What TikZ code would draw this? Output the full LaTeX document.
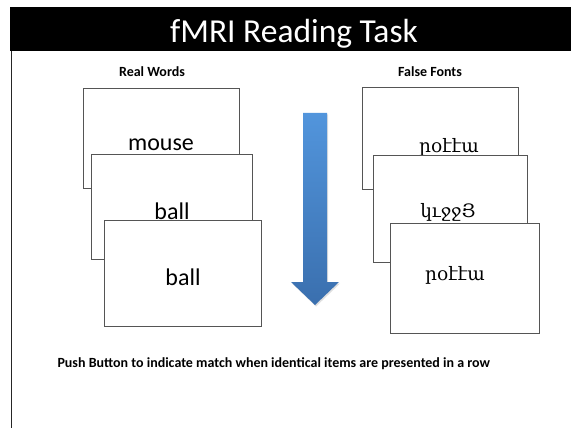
\documentclass[tikz,border=0pt]{standalone}
\usepackage{fontspec}
\setmainfont{Carlito}
\newfontfamily\armfont[Script=Armenian]{DejaVu Serif}
\usetikzlibrary{shadows}
\definecolor{cardline}{HTML}{555555}
\definecolor{arrowtop}{HTML}{5295DC}
\definecolor{arrowbot}{HTML}{3A6FAE}
\tikzset{
  card/.style={draw=cardline, line width=0.9pt, fill=white},
  cardtext/.style={font=\fontsize{24}{28}\selectfont},
  armtext/.style={font=\armfont\fontsize{18.5}{22}\selectfont},
  lbl/.style={font=\bfseries\fontsize{14}{16}\selectfont},
}
\begin{document}
\begin{tikzpicture}[x=1pt,y=-1pt]
\useasboundingbox (0,0) rectangle (571,428);
\fill[white] (0,0) rectangle (571,428);
% title bar
\fill[black] (10,7) rectangle (571,51);
\node[text=white, anchor=base, font=\fontsize{33.5}{38}\selectfont] (title) at (294,43) {fMRI Reading Task};
\draw[line width=1.6pt, black!85] (11.5,51) -- (11.5,428);
% labels
\node[lbl] (rw) at (152,72) {Real Words};
\node[lbl] (ff) at (430,72) {False Fonts};
% left cards
\draw[card] (83,88) rectangle (239,188);
\node[cardtext] (w1) at (161,145) {mouse};
\draw[card] (91,154) rectangle (252,259);
\node[cardtext] (w2) at (172,211) {ball};
\draw[card] (104,220) rectangle (261,326);
\node[cardtext] (w3) at (183,277) {ball};
% right cards
\draw[card] (362,87) rectangle (518,189);
\node[armtext] (f1) at (449,147) {րօէէա};
\draw[card] (373,155) rectangle (527,262);
\node[armtext] (f2) at (448,212) {կւջջՅ};
\draw[card] (390,223) rectangle (539,333);
\node[armtext] (f3) at (455,275) {րօէէա};
% arrow
\shade[top color=arrowtop, bottom color=arrowbot, drop shadow={opacity=0.25, shadow xshift=1pt, shadow yshift=-1.5pt}]
  (303,113) -- (327,113) -- (327,282) -- (339,282) -- (315,305) -- (291,282) -- (303,282) -- cycle;
% bottom text
\node[lbl, anchor=west] (note) at (54,364) {Push Button to indicate match when identical items are presented in a row};
\end{tikzpicture}
\end{document}
